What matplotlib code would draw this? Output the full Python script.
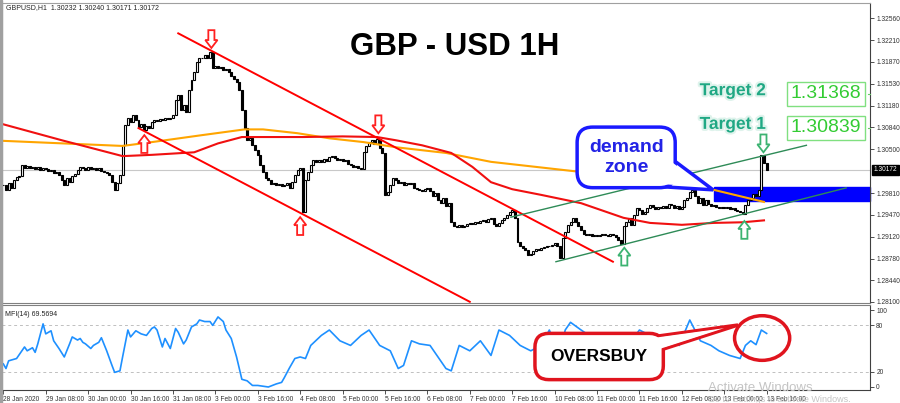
import matplotlib
matplotlib.use('Agg')

import matplotlib.patches as mpatches
import matplotlib.patheffects as pe
import matplotlib.pyplot as plt
import matplotlib.transforms as mtransforms
import numpy as np

plt.rcParams['font.family'] = ['Liberation Sans', 'DejaVu Sans']

# GBPUSD H1 closes, 28 Jan 2020 16:00 .. 13 Feb 2020 16:00 (16 bars per row)
closes = np.array([
    1.2993, 1.2986, 1.2997, 1.2989, 1.3001, 1.3006, 1.3008, 1.3025, 1.3020, 1.3023, 1.3020, 1.3022, 1.3019, 1.3022, 1.3017, 1.3020,
    1.3019, 1.3015, 1.3017, 1.3012, 1.3014, 1.3009, 1.3001, 1.2993, 1.3004, 1.2998, 1.3008, 1.3011, 1.3017, 1.3022, 1.3020, 1.3017,
    1.3022, 1.3019, 1.3020, 1.3017, 1.3020, 1.3015, 1.3014, 1.3012, 1.3009, 1.2998, 1.2986, 1.2997, 1.3009, 1.3056, 1.3088, 1.3099,
    1.3092, 1.3103, 1.3096, 1.3085, 1.3089, 1.3080, 1.3086, 1.3083, 1.3092, 1.3096, 1.3094, 1.3097, 1.3096, 1.3099, 1.3097, 1.3099,
    1.3103, 1.3127, 1.3135, 1.3111, 1.3119, 1.3108, 1.3143, 1.3158, 1.3171, 1.3187, 1.3193, 1.3194, 1.3198, 1.3193, 1.3202, 1.3177,
    1.3180, 1.3177, 1.3179, 1.3174, 1.3176, 1.3171, 1.3165, 1.3161, 1.3155, 1.3143, 1.3111, 1.3083, 1.3064, 1.3067, 1.3056, 1.3048,
    1.3041, 1.3025, 1.3014, 1.3004, 1.3001, 1.2995, 1.2997, 1.2993, 1.2995, 1.2992, 1.2993, 1.2997, 1.2989, 1.2998, 1.3009, 1.3017,
    1.3020, 1.2951, 1.3001, 1.3014, 1.3025, 1.3033, 1.3030, 1.3033, 1.3030, 1.3034, 1.3031, 1.3037, 1.3039, 1.3036, 1.3033, 1.3034,
    1.3031, 1.3033, 1.3026, 1.3025, 1.3022, 1.3023, 1.3020, 1.3019, 1.3045, 1.3055, 1.3061, 1.3064, 1.3058, 1.3066, 1.3052, 1.3044,
    1.2978, 1.2982, 1.2993, 1.3004, 1.3001, 1.2997, 1.2998, 1.2993, 1.2997, 1.2995, 1.2997, 1.2989, 1.2987, 1.2986, 1.2984, 1.2987,
    1.2989, 1.2984, 1.2976, 1.2981, 1.2970, 1.2965, 1.2973, 1.2960, 1.2965, 1.2935, 1.2929, 1.2928, 1.2931, 1.2928, 1.2929, 1.2932,
    1.2934, 1.2932, 1.2935, 1.2934, 1.2937, 1.2938, 1.2935, 1.2940, 1.2942, 1.2932, 1.2929, 1.2934, 1.2938, 1.2942, 1.2946, 1.2951,
    1.2954, 1.2942, 1.2904, 1.2898, 1.2895, 1.2891, 1.2884, 1.2885, 1.2890, 1.2893, 1.2891, 1.2895, 1.2896, 1.2898, 1.2898, 1.2899,
    1.2902, 1.2898, 1.2879, 1.2910, 1.2920, 1.2931, 1.2935, 1.2942, 1.2935, 1.2929, 1.2923, 1.2917, 1.2915, 1.2917, 1.2913, 1.2915,
    1.2913, 1.2915, 1.2917, 1.2915, 1.2913, 1.2917, 1.2915, 1.2912, 1.2907, 1.2901, 1.2929, 1.2935, 1.2942, 1.2931, 1.2946, 1.2957,
    1.2954, 1.2948, 1.2951, 1.2957, 1.2962, 1.2959, 1.2956, 1.2959, 1.2957, 1.2960, 1.2957, 1.2964, 1.2962, 1.2957, 1.2960, 1.2956,
    1.2959, 1.2970, 1.2973, 1.2982, 1.2986, 1.2976, 1.2965, 1.2973, 1.2962, 1.2970, 1.2964, 1.2960, 1.2962, 1.2959, 1.2957, 1.2959,
    1.2957, 1.2959, 1.2956, 1.2957, 1.2954, 1.2953, 1.2951, 1.2948, 1.2962, 1.2970, 1.2973, 1.2979, 1.2976, 1.2986, 1.3041, 1.3028,
    1.30172,
])

date_labels = ['28 Jan 2020', '29 Jan 08:00', '30 Jan 00:00', '30 Jan 16:00', '31 Jan 08:00',
               '3 Feb 00:00', '3 Feb 16:00', '4 Feb 08:00', '5 Feb 00:00', '5 Feb 16:00',
               '6 Feb 08:00', '7 Feb 00:00', '7 Feb 16:00', '10 Feb 08:00', '11 Feb 00:00',
               '11 Feb 16:00', '12 Feb 08:00', '13 Feb 00:00', '13 Feb 16:00']
bars_per_label = 16

price_ticks = [1.28100, 1.28440, 1.28780, 1.29120, 1.29470, 1.29810,
               1.30500, 1.30840, 1.31180, 1.31530, 1.31870, 1.32210, 1.32560]
last_price = 1.30172

# moving averages (bar index, price)
ma_red_bar = [0, 22, 45, 56, 72, 81, 90, 98, 113, 128, 141, 148, 158, 169, 177,
              184, 192, 203, 218, 234, 244, 256, 268, 279, 287]
ma_red = [1.3089, 1.3064, 1.3039, 1.3041, 1.3045, 1.3059, 1.3069, 1.3069, 1.3069, 1.3070,
          1.3069, 1.3064, 1.3056, 1.3044, 1.3022, 1.2998, 1.2987, 1.2978, 1.2965, 1.2942,
          1.2934, 1.2931, 1.2934, 1.2935, 1.2938]
ma_orange_bar = [0, 45, 56, 75, 91, 98, 111, 123, 136, 148, 167, 184, 216, 227, 268, 287]
ma_orange = [1.3063, 1.3055, 1.3061, 1.3072, 1.3081, 1.3081, 1.3075, 1.3067, 1.3061,
             1.3053, 1.3044, 1.3030, 1.3015, 1.3014, 1.2986, 1.2967]

# trend lines: ((bar, price), (bar, price))
red_lines = [((66, 1.3232), (230, 1.2873)), ((51, 1.3083), (176, 1.2810))]
green_lines = [((191.5, 1.2943), (303, 1.3056)), ((208.5, 1.2873), (318, 1.2989))]

demand_zone = (268, 1.2990, 1.2969)   # start bar, top, bottom
targets = [('Target 2', 1.31368), ('Target 1', 1.30839)]

# arrow tips (bar, price)
red_down = [(78.5, 1.3209), (141.5, 1.3075)]
red_up = [(53.2, 1.3072), (112.0, 1.2943)]
green_down = [(286.8, 1.3045)]
green_up = [(234.3, 1.2895), (279.6, 1.2937)]

# MFI(14) samples
mfi_bar = [0, 1, 2, 5, 8, 9, 11, 12, 13, 15, 16, 18, 19, 21, 23, 25, 26, 28, 29, 30,
           31, 33, 34, 36, 37, 39, 41, 42, 44, 45, 47, 48, 50, 52, 54, 56, 57, 58, 60, 61,
           63, 65, 66, 68, 69, 71, 73, 74, 76, 78, 79, 81, 83, 84, 86, 88, 90, 92, 94, 96,
           98, 100, 103, 105, 106, 108, 110, 112, 114, 116, 120, 123, 127, 131, 135, 138, 142, 146, 149, 151,
           154, 157, 161, 165, 167, 169, 172, 176, 180, 184, 187, 191, 195, 199, 203, 206, 210, 212, 214, 218,
           221, 225, 229, 233, 237, 240, 244, 248, 252, 255, 259, 263, 267, 270, 274, 278, 280, 282, 284, 286,
           288]
mfi_val = [30, 24, 34, 37, 52, 47, 51, 45, 56, 82, 69, 73, 60, 50, 39, 56, 65, 61, 63, 58,
           56, 50, 54, 58, 64, 47, 28, 19, 21, 39, 74, 65, 73, 69, 67, 76, 78, 74, 52, 63,
           50, 76, 71, 56, 61, 78, 82, 87, 85, 85, 80, 91, 85, 74, 63, 39, 10, 8, 2, 2,
           1, 0, 4, 6, 12, 25, 37, 39, 37, 54, 67, 74, 60, 54, 67, 74, 54, 47, 24, 28,
           60, 56, 54, 34, 24, 21, 54, 47, 60, 41, 74, 67, 54, 47, 54, 74, 41, 74, 84, 74,
           67, 54, 47, 41, 60, 74, 67, 60, 67, 54, 87, 60, 54, 47, 41, 37, 54, 60, 55, 74,
           69.57]


def hollow_arrow(ax, x, tip, down, color):
    hw, sw = 2.3, 1.15          # half widths in bars
    hl, total = 0.00125, 0.0028  # head / total length in price
    s = 1 if down else -1
    pts = [(x, tip), (x - hw, tip + s * hl), (x - sw, tip + s * hl), (x - sw, tip + s * total),
           (x + sw, tip + s * total), (x + sw, tip + s * hl), (x + hw, tip + s * hl)]
    ax.add_patch(mpatches.Polygon(pts, closed=True, fc='white', ec=color, lw=1.3, zorder=7))


def callout(ax, text, center, tail, color, text_color, fontsize, pad, lw, **kw):
    # tail: triangle (two base points inside the box, then the tip)
    ax.add_patch(mpatches.Polygon(tail, closed=True, fc='white', ec=color, lw=lw,
                                  zorder=8, clip_on=False))
    ax.text(center[0], center[1], text, ha='center', va='center', fontsize=fontsize,
            fontweight='bold', color=text_color, zorder=9, clip_on=False,
            bbox=dict(boxstyle='round,pad=%s,rounding_size=0.8' % pad, fc='white',
                      ec=color, lw=lw), **kw)
    tri = np.array(tail, dtype=float)
    c = tri.mean(axis=0)
    inner = c + (tri - c) * 0.78
    ax.add_patch(mpatches.Polygon(inner, closed=True, fc='white', ec='none',
                                  zorder=10, clip_on=False))


fig = plt.figure(figsize=(9, 4.03), dpi=100)
ax = fig.add_axes([2 / 900, 100 / 403, 868 / 900, 300 / 403])
ax2 = fig.add_axes([2 / 900, 13 / 403, 868 / 900, 85 / 403])
fig.patches.append(mpatches.Rectangle((0, 0), 2 / 900, 1, transform=fig.transFigure,
                                      color='#a0a0a0'))

n = len(closes)
x = np.arange(n)
opens = np.r_[closes[0], closes[:-1]]
up = closes >= opens
ax.bar(x, closes - opens, bottom=opens, width=0.75,
       color=np.where(up, 'white', 'black'), edgecolor='black', linewidth=0.8, zorder=3)

ax.axhline(last_price, color='#c8c8c8', lw=0.8, zorder=1)
ax.plot(ma_orange_bar, ma_orange, color='#ffa500', lw=1.5, zorder=4)
ax.plot(ma_red_bar, ma_red, color='#f01010', lw=1.5, zorder=4)
for (x0, y0), (x1, y1) in red_lines:
    ax.plot([x0, x1], [y0, y1], color='#ff0000', lw=1.4, zorder=4)
for (x0, y0), (x1, y1) in green_lines:
    ax.plot([x0, x1], [y0, y1], color='#2e8b57', lw=1.0, zorder=4)

xmax = 327
ax.add_patch(mpatches.Rectangle((demand_zone[0], demand_zone[2]), xmax - demand_zone[0],
                                demand_zone[1] - demand_zone[2], color='#0000ff', zorder=2,
                                clip_on=False))

for bx, tip in red_down:
    hollow_arrow(ax, bx, tip, True, '#ff2020')
for bx, tip in red_up:
    hollow_arrow(ax, bx, tip, False, '#ff2020')
for bx, tip in green_down:
    hollow_arrow(ax, bx, tip, True, '#3cb371')
for bx, tip in green_up:
    hollow_arrow(ax, bx, tip, False, '#3cb371')

ax.set_xlim(-0.5, xmax)
ax.set_ylim(1.28081, 1.32797)
ax.yaxis.tick_right()
ax.set_yticks(price_ticks)
ax.set_yticklabels(['%.5f' % p for p in price_ticks])
ax.tick_params(axis='y', labelsize=4.8, length=3, width=0.6, pad=1.5,
               colors='#333333')
ax.tick_params(axis='x', bottom=False, labelbottom=False)
for sp, c in [('top', '#a0a0a0'), ('left', '#a0a0a0'), ('right', '#404040'), ('bottom', '#808080')]:
    ax.spines[sp].set_color(c)
    ax.spines[sp].set_linewidth(0.8)

blend = mtransforms.blended_transform_factory(ax.transAxes, ax.transData)
ax.text(1.004, last_price, '%.5f' % last_price, transform=blend, color='white',
        fontsize=4.8, va='center', ha='left',
        bbox=dict(boxstyle='square,pad=0.25', fc='black', ec='black'))

ax.text(0.522, 0.853, 'GBP - USD 1H', transform=ax.transAxes, ha='center', va='center',
        fontsize=22.5, fontweight='bold', color='black')
fig.text(6 / 900, 1 - 8 / 403, 'GBPUSD,H1  1.30232 1.30240 1.30171 1.30172',
         fontsize=5, va='center', color='#222222')

glow = [pe.withStroke(linewidth=3, foreground='#dff3ec')]
for name, level in targets:
    ax.text(275.3, level + 0.0005, name, ha='center', va='center', fontsize=12.5,
            fontweight='bold', color='#20a884', path_effects=glow, zorder=8)
    ax.text(310.4, level, '%.5f' % level, ha='center', va='center', fontsize=14,
            color='#33cc33', zorder=8,
            bbox=dict(boxstyle='square,pad=0.18', fc='white', ec='#80e080', lw=1))
    ax.plot([326.2, xmax], [level, level], color='#66cc66', lw=0.8, clip_on=False, zorder=8)

callout(ax, 'demand\nzone', (235, 1.3037),
        [(248.6, 1.3046), (244.0, 1.2992), (267.8, 1.2986)],
        '#1a1aff', '#2323e6', 14, 0.6, 2.5, linespacing=1.25)

# MFI panel
ax2.plot(mfi_bar, mfi_val, color='#1e90ff', lw=1.2, zorder=3)
for lvl in (80, 20):
    ax2.axhline(lvl, color='#c0c0c0', lw=0.7, ls=(0, (3, 3)), zorder=1)
ax2.set_xlim(-0.5, xmax)
ax2.set_ylim(-3.9, 106.5)
ax2.yaxis.tick_right()
ax2.set_yticks([0, 20, 80, 100])
ax2.set_yticklabels(['0', '20', '80', '100'])
ax2.tick_params(axis='y', labelsize=4.8, length=3, width=0.6, pad=1.5, colors='#333333')
tick_pos = np.arange(len(date_labels)) * bars_per_label
ax2.set_xticks(tick_pos)
ax2.set_xticklabels(date_labels, ha='left')
ax2.tick_params(axis='x', labelsize=4.8, length=3, width=0.6, pad=1.5, colors='#333333')
for sp, c in [('top', '#808080'), ('left', '#a0a0a0'), ('right', '#404040'), ('bottom', '#404040')]:
    ax2.spines[sp].set_color(c)
    ax2.spines[sp].set_linewidth(0.8)
ax2.text(0.004, 0.89, 'MFI(14) 69.5694', transform=ax2.transAxes, fontsize=5,
         va='center', color='#222222')

ax2.add_patch(mpatches.Ellipse((286.3, 63.6), width=20.8, height=58, fill=False,
                               ec='#e0141e', lw=2.5, clip_on=False, zorder=8))
callout(ax2, 'OVERSBUY', (224.8, 39.6),
        [(240.3, 63.0), (242.5, 42.0), (277.2, 80.5)],
        '#e0141e', 'black', 12.5, 0.9, 2.5)

fig.text(760 / 900, 1 - 388 / 403, 'Activate Windows', fontsize=9.5, color='#c4c4c4',
         ha='center', va='center')
fig.text(708 / 900, 1 - 399 / 403, 'Go to Settings to activate Windows.', fontsize=6.5,
         color='#c4c4c4', ha='left', va='center')

fig.savefig('out.png', dpi=100)
